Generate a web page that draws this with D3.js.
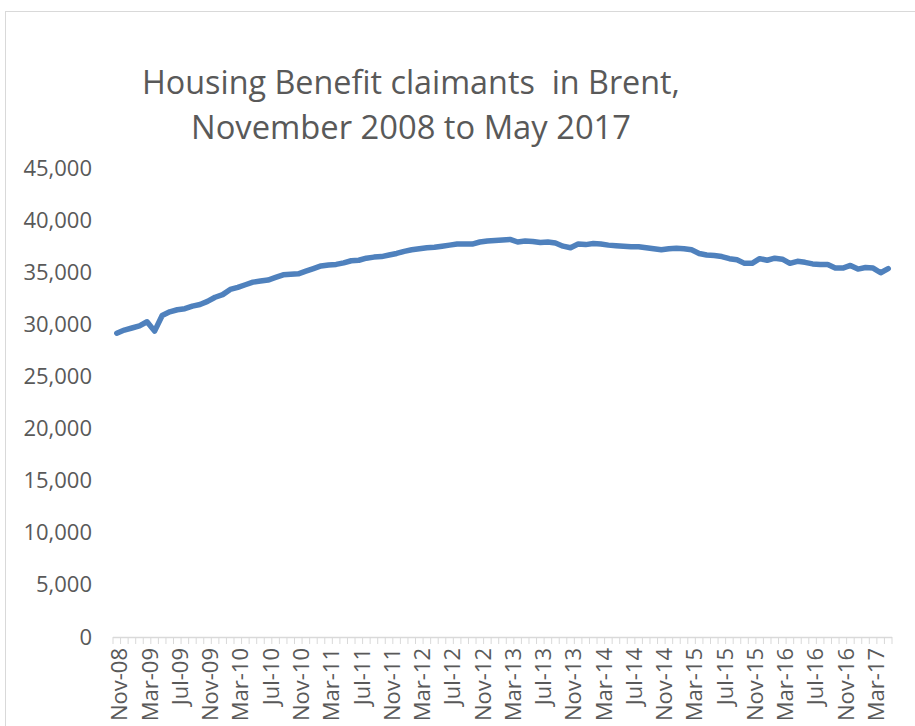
<!DOCTYPE html>
<html>
<head>
<meta charset="utf-8">
<script src="https://cdn.jsdelivr.net/npm/d3@7/dist/d3.min.js"></script>
<style>
  html, body { margin: 0; padding: 0; background: #fff; }
  svg { display: block; }
</style>
</head>
<body>
<svg id="chart" width="915" height="726"></svg>
<script>
// Housing Benefit claimants in Brent, monthly, Nov 2008 – May 2017
const firstMonth = new Date(2008, 10, 1);   // Nov-08
const lastMonth  = new Date(2017, 4, 1);    // May-17
const months = d3.timeMonth.range(firstMonth, d3.timeMonth.offset(lastMonth, 1));

const claimants = [
  29150, 29450, 29650, 29850, 30250, 29350, 30850, 31200, 31400, 31500,
  31750, 31900, 32200, 32600, 32850, 33350, 33550, 33800, 34050, 34150,
  34250, 34500, 34750, 34800, 34850, 35100, 35350, 35600, 35700, 35750,
  35900, 36100, 36150, 36350, 36450, 36500, 36650, 36800, 37000, 37150,
  37250, 37350, 37400, 37500, 37600, 37700, 37700, 37700, 37900, 38000,
  38050, 38100, 38150, 37900, 38000, 37950, 37850, 37900, 37800, 37500,
  37350, 37700, 37650, 37750, 37700, 37600, 37550, 37500, 37450, 37450,
  37350, 37250, 37150, 37250, 37300, 37250, 37150, 36800, 36650, 36600,
  36500, 36300, 36200, 35850, 35850, 36300, 36150, 36350, 36250, 35850,
  36050, 35950, 35800, 35750, 35750, 35400, 35400, 35650, 35300, 35450,
  35400, 34950, 35350
];

const yTicks = [0, 5000, 10000, 15000, 20000, 25000, 30000, 35000, 40000, 45000];
const xTickLabels = [
  "Nov-08", "Mar-09", "Jul-09", "Nov-09", "Mar-10", "Jul-10", "Nov-10",
  "Mar-11", "Jul-11", "Nov-11", "Mar-12", "Jul-12", "Nov-12", "Mar-13",
  "Jul-13", "Nov-13", "Mar-14", "Jul-14", "Nov-14", "Mar-15", "Jul-15",
  "Nov-15", "Mar-16", "Jul-16", "Nov-16", "Mar-17"
];
const titleLines = ["Housing Benefit claimants  in Brent,", "November 2008 to May 2017"];

const fmtMonth = d3.timeFormat("%b-%y");
const svg = d3.select("#chart");
const textColor = "#595959";
const axisColor = "#d9d9d9";
const font = "'Open Sans', 'DejaVu Sans', sans-serif";

// chart frame
svg.append("rect")
  .attr("x", 5.5).attr("y", 11.5)
  .attr("width", 1000).attr("height", 1000)
  .attr("fill", "#fff")
  .attr("stroke", axisColor).attr("stroke-width", 1);

// title
const titleLayout = [{ y: 94, len: 538 }, { y: 139, len: 440 }];
svg.append("g").selectAll("text")
  .data(titleLines)
  .join("text")
  .attr("x", 411)
  .attr("y", (d, i) => titleLayout[i].y)
  .attr("text-anchor", "middle")
  .attr("font-family", font)
  .attr("font-size", 33)
  .attr("fill", textColor)
  .attr("textLength", (d, i) => titleLayout[i].len)
  .attr("lengthAdjust", "spacingAndGlyphs")
  .style("white-space", "pre")
  .text(d => d);

// scales
const x = d3.scaleBand()
  .domain(months.map((d, i) => i))
  .range([113, 892])
  .paddingInner(0).paddingOuter(0);

const y = d3.scaleLinear()
  .domain([0, 45000])
  .range([637, 168]);

const cx = i => x(i) + x.bandwidth() / 2;

// y axis labels (no axis line, no gridlines)
const yAxis = d3.axisLeft(y)
  .tickValues(yTicks)
  .tickFormat(d3.format(","))
  .tickSize(0)
  .tickPadding(0);

const yg = svg.append("g")
  .attr("transform", "translate(92,0)")
  .call(yAxis);
yg.select(".domain").remove();
yg.selectAll("text")
  .attr("font-family", font)
  .attr("font-size", 22)
  .attr("fill", textColor);

// x axis: line with a tick at every month boundary
const xg = svg.append("g");
xg.append("line")
  .attr("x1", 113).attr("x2", 892)
  .attr("y1", 637.5).attr("y2", 637.5)
  .attr("stroke", axisColor).attr("stroke-width", 1.5);

const boundaries = months.map((d, i) => x(i)).concat([x(months.length - 1) + x.bandwidth()]);
xg.selectAll("line.tick")
  .data(boundaries)
  .join("line")
  .attr("class", "tick")
  .attr("x1", d => d).attr("x2", d => d)
  .attr("y1", 637).attr("y2", 644)
  .attr("stroke", axisColor).attr("stroke-width", 1);

// rotated month labels every fourth month
const labelIdx = months.map((d, i) => i).filter(i => xTickLabels.includes(fmtMonth(months[i])));
xg.selectAll("text")
  .data(labelIdx)
  .join("text")
  .attr("transform", i => `translate(${cx(i) + 3},648) rotate(-90)`)
  .attr("text-anchor", "end")
  .attr("dy", "0.35em")
  .attr("font-family", font)
  .attr("font-size", 22)
  .attr("fill", textColor)
  .text(i => fmtMonth(months[i]));

// claimant line
const line = d3.line()
  .x((d, i) => cx(i))
  .y(d => y(d));

svg.append("path")
  .datum(claimants)
  .attr("d", line)
  .attr("fill", "none")
  .attr("stroke", "#4f81bd")
  .attr("stroke-width", 5.5)
  .attr("stroke-linejoin", "round")
  .attr("stroke-linecap", "round");
</script>
</body>
</html>
